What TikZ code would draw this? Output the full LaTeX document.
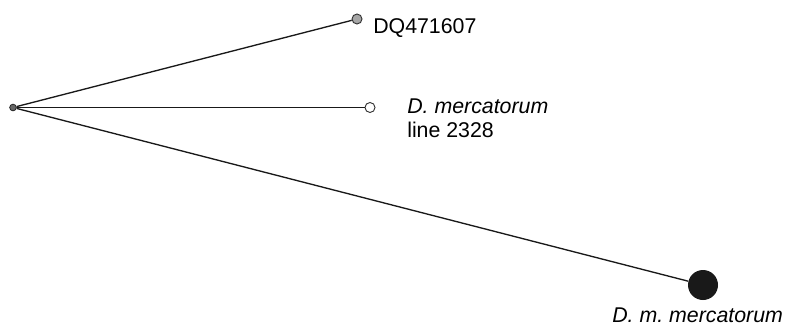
\documentclass[tikz,border=0pt]{standalone}
\usepackage{fontspec}
\setmainfont{Liberation Sans}
\frenchspacing
\begin{document}
\begin{tikzpicture}[x=0.75pt,y=-0.75pt,
  edge/.style={draw=black!90, line width=1pt},
  leaf/.style={circle, draw=black!80, line width=0.7pt, inner sep=0pt, minimum size=7.5pt},
  lbl/.style={anchor=base west, inner sep=0pt, font=\frenchspacing\fontsize{16}{17.6}\selectfont, align=left}]
\useasboundingbox (0,0) rectangle (785,325);
\node[circle, fill=black!60, draw=black!85, line width=0.6pt, inner sep=0pt, minimum size=5pt] (root) at (13,107.5) {};
\node[leaf, fill=black!35] (dq) at (357,19) {};
\node[leaf, fill=white] (dm) at (370,107.5) {};
\node[circle, fill=black!90, inner sep=0pt, minimum size=22.5pt] (dmm) at (703,285) {};
\draw[edge] (root) -- (dq);
\draw[edge] (root) -- (dm);
\draw[edge] (root) -- (dmm);
\node[lbl] (t1) at (373,33) {DQ471607};
\node[lbl] (t2) at (407,137) {\textit{D. mercatorum}\\line 2328};
\node[lbl] (t3) at (612,322) {\textit{D. m. mercatorum}};
\end{tikzpicture}
\end{document}
